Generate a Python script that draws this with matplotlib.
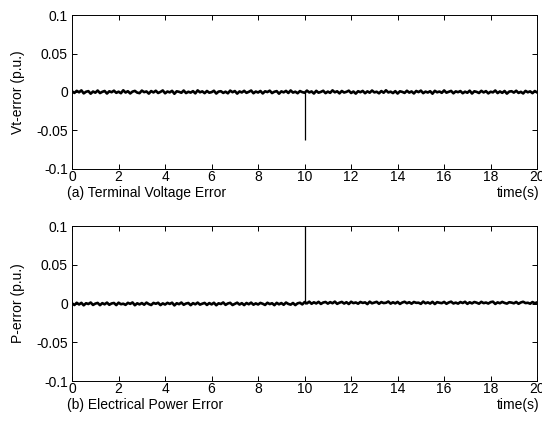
import numpy as np
import matplotlib.pyplot as plt

plt.rcParams['font.family'] = ['Liberation Sans', 'DejaVu Sans']
plt.rcParams['font.size'] = 10

# sampled error signals, in units of 1e-3 p.u., one sample every 0.1 s from 0 to 20 s
vt_err_milli = [
    0.8, -1.2, 1.5, -0.4, 2.1, -1.8, 0.3, 1.1, -2.2, 0.6,
    -0.9, 1.9, -1.4, 0.2, 1.3, -2.0, 0.9, -0.3, 1.7, -1.1,
    0.4, -1.6, 2.2, -0.7, 1.0, -1.9, 0.5, 1.4, -0.8, -1.5,
    1.8, -0.2, 0.7, -2.1, 1.2, -0.6, 1.6, -1.3, 0.1, 2.0,
    -1.7, 0.6, -0.5, 1.5, -2.3, 0.9, 0.2, -1.0, 1.9, -1.4,
    0.3, -0.8, 1.1, -1.8, 2.1, -0.4, 0.8, -1.5, 1.3, -0.9,
    -0.2, 1.6, -2.0, 0.5, 1.0, -1.2, 0.4, -1.7, 1.8, -0.3,
    1.2, -2.1, 0.7, -0.6, 1.5, -1.1, 0.2, 1.9, -1.6, 0.6,
    -0.7, 1.3, -1.9, 0.9, -0.1, 1.7, -1.4, 0.3, 1.1, -2.2,
    0.8, -0.5, 1.4, -1.3, 2.0, -0.8, 0.4, -1.6, 1.2, -0.2,
    -1.0, 1.8, -0.6, 0.7, -2.0, 1.5, -0.9, 0.1, 1.6, -1.5,
    0.5, -1.1, 2.1, -0.4, 0.9, -1.8, 1.3, -0.7, 0.2, 1.7,
    -1.3, 0.6, -2.1, 1.0, -0.3, 1.4, -1.6, 0.8, -0.9, 1.9,
    -0.5, 0.3, -1.7, 1.2, -1.0, 2.2, -0.6, 0.4, -1.4, 1.1,
    -2.0, 0.9, 0.1, -1.2, 1.6, -0.8, 0.7, -1.9, 1.3, -0.2,
    1.8, -1.5, 0.5, -0.7, 1.0, -2.2, 1.5, -0.4, 0.6, -1.1,
    2.0, -0.9, 0.2, 1.4, -1.7, 0.8, -0.3, 1.2, -1.6, 0.4,
    -1.0, 1.7, -2.0, 0.9, 0.1, -1.3, 1.5, -0.6, 1.1, -1.8,
    0.3, -0.5, 1.9, -1.4, 0.7, -1.1, 1.3, -2.1, 0.5, 1.0,
    -0.8, 1.6, -1.2, 0.2, -1.9, 1.4, -0.4, 0.8, -1.5, 1.2,
    -0.6,
]
p_err_milli = [
    0.2, -1.9, 1.0, -1.2, 0.9, -2.3, 0.4, -0.6, 1.3, -1.8,
    -0.1, 0.8, -2.1, 0.5, -1.0, 1.2, -1.6, 0.1, 0.7, -2.0,
    1.1, -0.9, -0.2, -1.7, 0.9, -0.4, 1.4, -2.2, 0.3, -1.1,
    0.6, -1.5, 1.2, -0.7, -1.9, 0.8, -0.3, 1.0, -2.0, 0.2,
    -1.3, 0.9, -0.5, 1.1, -2.4, 0.4, -0.8, 1.3, -1.6, 0.0,
    0.7, -2.1, 0.5, -1.0, 1.2, -1.4, -0.2, 0.8, -1.8, 0.6,
    -1.1, 1.0, -2.2, 0.3, -0.6, 1.4, -1.7, 0.1, 0.9, -1.9,
    -0.4, 1.1, -1.3, 0.5, -2.0, 0.7, -0.9, 1.2, -1.5, 0.2,
    -1.2, 0.8, -0.3, -1.8, 1.0, -0.7, 0.4, -2.1, 0.9, -1.0,
    0.6, -1.6, 1.3, -0.5, -1.4, 0.7, -2.0, 0.3, 1.0, -1.1,
    1.9, 0.2, 2.4, -0.3, 1.6, 0.1, 2.2, -0.5, 1.3, 2.0,
    -0.1, 1.8, 0.4, 2.5, -0.4, 1.1, 2.1, 0.0, 1.7, -0.6,
    2.3, 0.5, 1.4, -0.2, 2.0, 0.8, 1.5, -0.7, 2.4, 0.3,
    1.2, 2.2, -0.3, 1.9, 0.6, 1.0, 2.6, -0.1, 1.6, 0.2,
    2.1, -0.5, 1.3, 2.3, 0.4, 1.7, -0.2, 2.0, 0.9, 1.1,
    -0.4, 2.5, 0.3, 1.5, 0.0, 2.2, -0.6, 1.8, 1.0, 0.5,
    2.1, -0.3, 1.4, 2.4, 0.1, 1.2, -0.1, 1.9, 0.7, 2.3,
    -0.4, 1.6, 0.2, 2.0, 1.1, -0.2, 2.2, 0.5, 1.3, 0.0,
    1.8, 2.4, -0.5, 1.5, 0.4, 2.1, 0.8, -0.1, 1.7, 1.2,
    0.3, 2.0, -0.3, 1.4, 2.3, 0.6, 1.0, -0.2, 1.9, 0.4,
    1.5,
]
time_s = np.round(np.arange(len(vt_err_milli)) * 0.1, 2)

# disturbance spikes at t = 10 s
vt_spike_time = 10.0
vt_spike_value = -0.062
p_spike_time = 10.0
p_spike_value = 0.1

xticks = [0, 2, 4, 6, 8, 10, 12, 14, 16, 18, 20]
yticks = [-0.1, -0.05, 0, 0.05, 0.1]
ytick_labels = ['-0.1', '-0.05', '0', '0.05', '0.1']

fig = plt.figure(figsize=(5.42, 4.21), dpi=100)
ax1 = fig.add_axes([0.133, 0.599, 0.858, 0.365])
ax2 = fig.add_axes([0.133, 0.095, 0.858, 0.368])

panels = [
    (ax1, np.array(vt_err_milli) / 1000, vt_spike_time, vt_spike_value,
     'Vt-error (p.u.)', '(a) Terminal Voltage Error'),
    (ax2, np.array(p_err_milli) / 1000, p_spike_time, p_spike_value,
     'P-error (p.u.)', '(b) Electrical Power Error'),
]

for ax, err, st, sv, ylab, cap in panels:
    ax.plot(time_s, err, color='black', linewidth=1.9)
    ax.vlines(st, 0, sv, color='black', linewidth=0.9)
    ax.set_xlim(0, 20)
    ax.set_ylim(-0.1, 0.1)
    ax.set_xticks(xticks)
    ax.set_yticks(yticks)
    ax.set_yticklabels(ytick_labels)
    ax.tick_params(direction='in', length=3.5, width=0.7, top=True, right=True,
                   labelsize=10, pad=3)
    ax.tick_params(axis='x', pad=1)
    for s in ax.spines.values():
        s.set_linewidth(0.7)
    ax.set_ylabel(ylab, fontsize=10, labelpad=8)
    ax.text(-0.012, -0.112, cap, transform=ax.transAxes, fontsize=10,
            ha='left', va='top')
    ax.text(1.006, -0.112, 'time(s)', transform=ax.transAxes, fontsize=10,
            ha='right', va='top')

fig.savefig('out.png', dpi=100)
